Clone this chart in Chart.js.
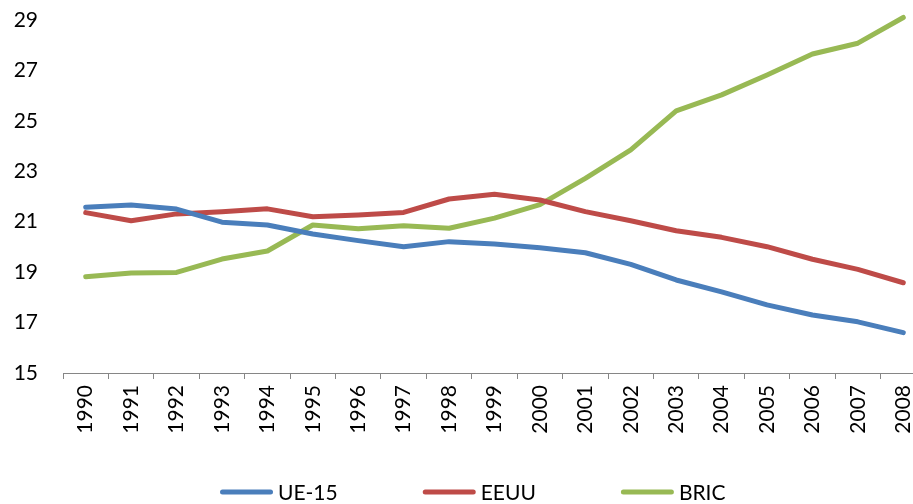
<!DOCTYPE html>
<html>
<head>
<meta charset="utf-8">
<script src="https://cdn.jsdelivr.net/npm/chart.js@4"></script>
<style>
  html, body { margin: 0; padding: 0; background: #ffffff; overflow: hidden; }
  #wrap { position: relative; width: 913px; height: 504px; overflow: hidden; }
  #c { position: absolute; left: 0; top: 0; }
</style>
</head>
<body>
<div id="wrap"><canvas id="c" width="940" height="504"></canvas></div>
<script>
const years = ["1990","1991","1992","1993","1994","1995","1996","1997","1998","1999","2000","2001","2002","2003","2004","2005","2006","2007","2008"];
const ue15 = [21.57, 21.66, 21.50, 20.98, 20.87, 20.51, 20.25, 20.01, 20.21, 20.12, 19.97, 19.77, 19.31, 18.69, 18.22, 17.70, 17.30, 17.03, 16.60];
const eeuu = [21.36, 21.04, 21.31, 21.40, 21.51, 21.20, 21.27, 21.37, 21.90, 22.09, 21.86, 21.40, 21.04, 20.64, 20.38, 20.01, 19.51, 19.11, 18.58];
const bric = [18.82, 18.97, 18.99, 19.52, 19.84, 20.87, 20.72, 20.84, 20.74, 21.14, 21.68, 22.72, 23.85, 25.40, 26.03, 26.82, 27.65, 28.08, 29.10];
const seriesNames = ["UE-15", "EEUU", "BRIC"];
const yMin = 15, yMax = 29, yStep = 2;

const FONT = "Lato, 'Open Sans', 'Liberation Sans', sans-serif";
const colors = ["#4A7EBB", "#BE4B48", "#98B954"];

const legendPlugin = {
  id: 'excelLegend',
  afterDraw(chart) {
    const ctx = chart.ctx;
    ctx.save();
    ctx.font = "21px " + FONT;
    ctx.textBaseline = "middle";
    ctx.textAlign = "left";
    let x = 220;
    const y = 492;
    chart.data.datasets.forEach(ds => {
      ctx.strokeStyle = ds.borderColor;
      ctx.lineWidth = 5;
      ctx.lineCap = "round";
      ctx.beginPath();
      ctx.moveTo(x + 2.5, y);
      ctx.lineTo(x + 50.5, y);
      ctx.stroke();
      ctx.fillStyle = "#000000";
      ctx.fillText(ds.label, x + 58, y + 1);
      const w = ctx.measureText(ds.label).width;
      x += 58 + w + 85;
    });
    ctx.restore();
  }
};

const mk = (i, data) => ({
  label: seriesNames[i],
  data: data,
  borderColor: colors[i],
  backgroundColor: colors[i],
  borderWidth: 5,
  borderCapStyle: 'round',
  borderJoinStyle: 'round',
  pointRadius: 0,
  tension: 0,
  fill: false,
  clip: false
});

new Chart(document.getElementById('c'), {
  type: 'line',
  data: {
    labels: years,
    datasets: [mk(0, ue15), mk(1, eeuu), mk(2, bric)]
  },
  options: {
    responsive: false,
    animation: false,
    events: [],
    layout: { padding: { top: 20, right: 14, left: 0, bottom: 0 } },
    plugins: {
      legend: { display: false },
      tooltip: { enabled: false }
    },
    scales: {
      x: {
        type: 'category',
        offset: true,
        grid: {
          display: true,
          offset: true,
          drawOnChartArea: false,
          drawTicks: true,
          tickLength: 6,
          color: '#868686',
          lineWidth: 1
        },
        border: { display: true, color: '#868686', width: 1 },
        ticks: {
          autoSkip: false,
          minRotation: 90,
          maxRotation: 90,
          padding: 6,
          color: '#000000',
          font: { family: FONT, size: 21 }
        },
        afterFit(scale) { scale.height = 131; scale.paddingLeft = 0; scale.paddingRight = 0; }
      },
      y: {
        min: yMin,
        max: yMax,
        grid: { display: false, drawTicks: false },
        border: { display: false },
        ticks: {
          stepSize: yStep,
          padding: 25,
          color: '#000000',
          font: { family: FONT, size: 21 }
        },
        afterFit(scale) { scale.width = 63; scale.paddingTop = 0; scale.paddingBottom = 0; }
      }
    }
  },
  plugins: [legendPlugin]
});
</script>
</body>
</html>
